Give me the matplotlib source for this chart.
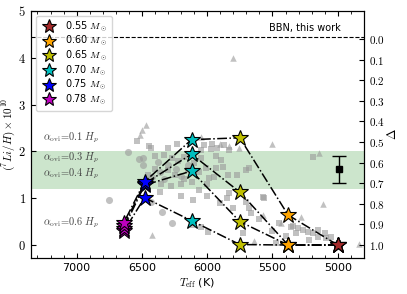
import matplotlib
matplotlib.use('Agg')
import matplotlib.pyplot as plt
import numpy as np
from matplotlib.ticker import MultipleLocator, FixedLocator, FormatStrFormatter

plt.rcParams['mathtext.fontset'] = 'cm'
plt.rcParams['font.size'] = 8

# model tracks: one value per mass, for each overshoot
masses = [0.55, 0.60, 0.65, 0.70, 0.75, 0.78]
colors = ['brown', 'orange', 'y', 'c', 'b', 'm']
teff_mod = [5000, 5380, 5750, 6120, 6480, 6640]
li_a01 = [0.0, 0.64, 2.29, 2.25, 1.35, 0.47]
li_a03 = [0.0, 0.0, 1.13, 1.94, 1.31, 0.41]
li_a04 = [0.0, 0.0, 0.50, 1.58, 1.28, 0.35]
li_a06 = [0.0, 0.0, 0.01, 0.52, 1.01, 0.29]
alpha_labels = ['0.1', '0.3', '0.4', '0.6']
alpha_label_y = [2.30, 1.87, 1.51, 0.47]

bbn = 4.45
band = [1.2, 2.0]
obs_teff, obs_li, obs_err = 4990, 1.62, 0.29
delta_ticks = [0.0, 0.1, 0.2, 0.3, 0.4, 0.5, 0.6, 0.7, 0.8, 0.9, 1.0]

# observed stars (grey background)
circ_teff = [6750, 6610, 6495, 6520, 6380, 6360, 6300, 6240, 6420, 6330, 6200, 6150, 6427, 6345, 6266, 6490]
circ_li = [0.96, 1.98, 1.85, 1.84, 1.77, 1.56, 1.70, 1.62, 1.45, 1.40, 1.48, 1.70, 0.91, 0.71, 0.47, 1.70]
sq_teff = [6537, 6434, 6299, 6230, 6028, 5962, 5923, 5875, 5836, 6051, 5974, 5936, 5898, 5882,
           5936, 5844, 5768, 5706, 5683, 5989, 6066, 5836, 5576, 5186, 6442,
           6400, 6330, 6270, 6220, 6180, 6100, 6050, 6300, 6250, 6180, 6120, 6060, 6010,
           6400, 6450, 6350, 6280, 6200, 6000, 5950, 6150,
           6358, 6112, 6051, 5997, 6105, 6200, 6000, 5900, 5800, 5850, 5700,
           5568, 5668, 5729, 5453, 5361, 5308, 5269, 5231, 5193, 5323, 5155, 5093, 5055,
           5476, 5223, 5346, 5400, 5600, 5500, 5150, 5100, 5680]
sq_li = [2.23, 2.08, 2.08, 2.16, 2.13, 2.16, 2.08, 2.13, 2.02, 2.02, 2.06, 1.91, 1.81, 1.66,
         1.64, 1.49, 1.49, 1.60, 1.64, 1.43, 1.17, 1.11, 1.02, 1.89, 2.11,
         1.90, 1.93, 1.85, 1.80, 1.88, 1.75, 1.85, 1.60, 1.50, 1.42, 1.35, 1.55, 1.65,
         1.62, 1.50, 1.30, 1.25, 1.30, 1.30, 1.45, 1.60,
         1.13, 0.96, 0.38, 0.28, 0.43, 1.05, 1.05, 0.90, 0.80, 1.00, 0.92,
         1.00, 0.68, 0.26, 0.47, 0.38, 0.36, 0.32, 0.28, 0.26, 0.26, 0.17, 0.15, 0.17,
         0.04, 0.11, 0.40, 0.20, 0.55, 0.30, 0.32, 0.25, 0.80]
tri_teff = [5806, 6472, 6498, 6518, 5905, 5836, 5760, 5500, 5147, 5116, 5285, 4834,
            5645, 6419, 5438, 5576, 6051]
tri_li = [4.00, 2.57, 2.45, 2.34, 2.15, 2.11, 2.08, 2.15, 1.96, 0.87, 0.60, 0.02,
          0.08, 0.21, 0.47, 0.64, 2.30]

fig = plt.figure(figsize=(4.07, 2.94), dpi=100)
ax = fig.add_axes([0.076, 0.122, 0.818, 0.841])

ax.axhspan(band[0], band[1], color='green', alpha=0.2, lw=0, zorder=0)
ax.scatter(circ_teff, circ_li, s=26, marker='o', color='#999999', alpha=0.6, lw=0, zorder=1)
ax.scatter(sq_teff, sq_li, s=20, marker='s', color='#999999', alpha=0.6, lw=0, zorder=1)
ax.scatter(tri_teff, tri_li, s=22, marker='^', color='#999999', alpha=0.6, lw=0, zorder=1)

ax.axhline(bbn, color='k', ls='--', lw=0.8)
ax.text(4975, bbn + 0.08, 'BBN, this work', ha='right', va='bottom', fontsize=7)

for li in [li_a01, li_a03, li_a04, li_a06]:
    ax.plot(teff_mod, li, 'k-.', lw=1.1, zorder=2)
for li in [li_a06, li_a04, li_a03, li_a01]:
    for i in range(len(masses)):
        ax.plot(teff_mod[i], li[i], marker='*', ms=12, color=colors[i],
                mec='k', mew=0.8, ls='none', zorder=3)
for i in range(len(masses)):
    ax.plot([], [], marker='*', ms=10, color=colors[i], mec='k', mew=0.8, ls='none',
            label='%.2f $M_\\odot$' % masses[i])

for lab, yy in zip(alpha_labels, alpha_label_y):
    ax.text(7255, yy, r'$\alpha_{\rm ovi}\!=\!%s\ H_p$' % lab, ha='left', va='center',
            fontsize=7.5, color='#444444')

ax.errorbar(obs_teff, obs_li, yerr=obs_err, fmt='s', color='k', ms=5, capsize=5, lw=1, zorder=4)

ax.set_xlim(7350, 4800)
ax.set_ylim(-0.28, 5)
ax.xaxis.set_major_locator(MultipleLocator(500))
ax.xaxis.set_minor_locator(MultipleLocator(100))
ax.yaxis.set_major_locator(MultipleLocator(1))
ax.yaxis.set_major_formatter(FormatStrFormatter('$%d$'))
ax.tick_params(which='both', direction='in', top=True, right=False)
ax.tick_params(axis='y', labelsize=9)
ax.set_xlabel(r'$T_{\rm eff}$ (K)', fontsize=8, labelpad=2)
ax.set_ylabel(r'$(^7Li/H)\times10^{10}$', fontsize=8, labelpad=1)

ax2 = ax.twinx()
ax2.set_ylim(1 + 0.28 / 4.40, 1 - 5 / 4.40)
ax2.yaxis.set_major_locator(FixedLocator(delta_ticks))
ax2.yaxis.set_major_formatter(FormatStrFormatter('$%.1f$'))
ax2.tick_params(direction='in', labelsize=8)
ax2.set_ylabel(r'$\Delta$', fontsize=9, labelpad=1)

leg = ax.legend(loc='upper left', fontsize=7, handletextpad=0.8, borderpad=0.4,
                labelspacing=0.05, handlelength=1.85)
leg.get_frame().set_edgecolor('#cccccc')

fig.savefig('out.png', dpi=100)
